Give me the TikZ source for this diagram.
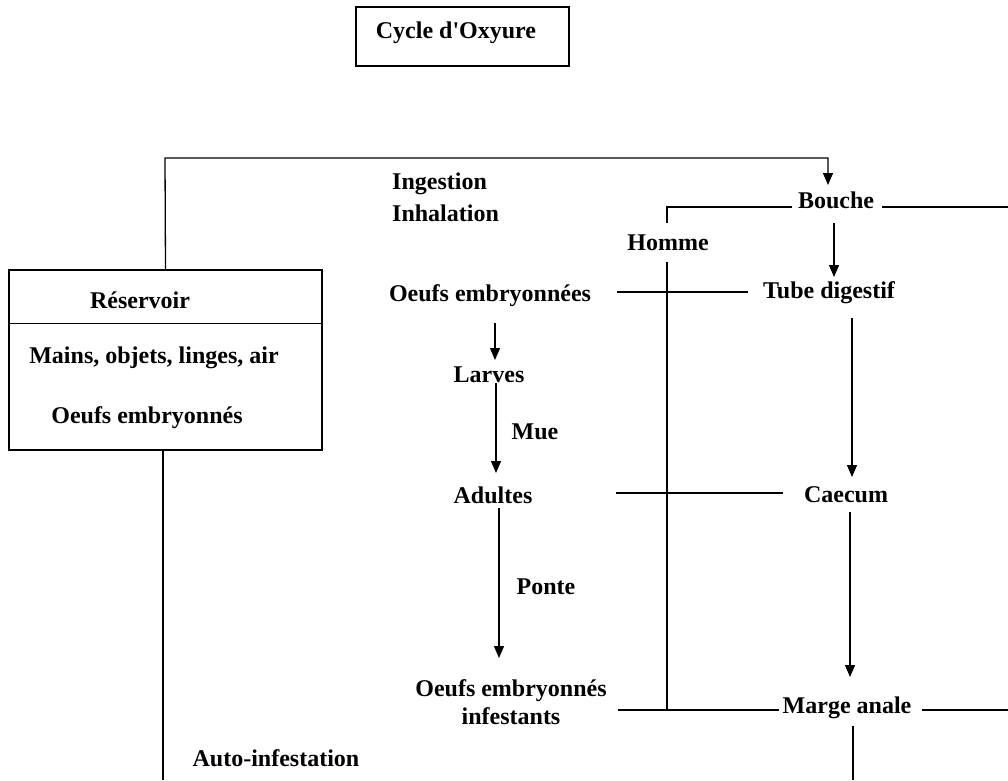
\documentclass[tikz,border=0pt]{standalone}
\usepackage{fontspec}
\setmainfont{Liberation Serif}
\usetikzlibrary{arrows.meta}
\begin{document}
\begin{tikzpicture}[x=1pt,y=-1pt,
  lbl/.style={font=\fontsize{24}{28}\selectfont\bfseries, inner sep=0pt, align=center},
  ln/.style={line width=1.3pt},
  arr/.style={line width=1.3pt, -{Triangle[width=10pt,length=12pt]}},
  boxst/.style={draw, line width=1.3pt, inner sep=0pt}]
\useasboundingbox (0,0) rectangle (1008,780);
% title
\node[boxst, minimum width=213pt, minimum height=59pt] (titlebox) at (462.5,36.5) {};
\node[lbl] (title) at (456,33) {Cycle d\textquotesingle Oxyure};
% reservoir
\node[boxst, minimum width=313pt, minimum height=180pt] (resbox) at (165.5,360) {};
\draw[ln] ([yshift=-54pt]resbox.north west) -- ([yshift=-54pt]resbox.north east);
\node[lbl] (res) at (140,300) {Réservoir};
\node[lbl] (mains) at (154,358) {Mains, objets, linges, air};
\node[lbl] (resoe) at (147,418) {Oeufs embryonnés};
% labels
\node[lbl, anchor=west] (ing) at (392,184) {Ingestion};
\node[lbl, anchor=west] (inh) at (392,213) {Inhalation};
\node[lbl] (bouche) at (836,200) {Bouche};
\node[lbl] (homme) at (668,243) {Homme};
\node[lbl] (oe1) at (490,296) {Oeufs embryonnées};
\node[lbl] (tube) at (829,293) {Tube digestif};
\node[lbl] (larves) at (489,375) {Larves};
\node[lbl] (mue) at (535,432) {Mue};
\node[lbl] (adultes) at (493,495) {Adultes};
\node[lbl] (caecum) at (846,495) {Caecum};
\node[lbl] (ponte) at (546,587) {Ponte};
\node[lbl] (oe2) at (511,702) {Oeufs embryonnés\\infestants};
\node[lbl] (marge) at (847,708) {Marge anale};
\node[lbl] (auto) at (276,758) {Auto-infestation};
% coordinates
\coordinate (topturn) at (165,158);
\coordinate (bouchetop) at (828,185);
\coordinate (bl) at (792,207);
\coordinate (hcorner) at (667,207);
\coordinate (htop) at (667,223);
\coordinate (hbot1) at (667,262);
\coordinate (hbot2) at (667,710);
\coordinate (br1) at (882,207);
\coordinate (br2) at (1008,207);
\coordinate (oe1r) at (617,292);
\coordinate (tubel) at (748,292);
\coordinate (adr) at (616,493);
\coordinate (cael) at (783,493);
\coordinate (oe2r) at (618,710);
\coordinate (margel) at (779,710);
\coordinate (marger1) at (922,710);
\coordinate (marger2) at (1008,710);
\coordinate (margeb1) at (853,726);
\coordinate (margeb2) at (853,780);
\coordinate (resb) at (163,780);
% connectors
\draw[arr] (resbox.north) -- (topturn) -| (bouchetop);
\draw[ln] (bl) -- (hcorner) -- (htop);
\draw[ln] (hbot1) -- (hbot2);
\draw[ln] (br1) -- (br2);
\draw[ln] (oe1r) -- (tubel);
\draw[ln] (adr) -- (cael);
\draw[ln] (oe2r) -- (margel);
\draw[ln] (marger1) -- (marger2);
\draw[ln] (margeb1) -- (margeb2);
\draw[ln] ([xshift=-2.5pt]resbox.south) -- (resb);
\draw[arr] (834,223) -- (834,277);
\draw[arr] (852,318) -- (852,477);
\draw[arr] (850,512) -- (850,677);
\draw[arr] (495,323) -- (495,360);
\draw[arr] (496,383) -- (496,473);
\draw[arr] (499,508) -- (499,658);
\end{tikzpicture}
\end{document}
